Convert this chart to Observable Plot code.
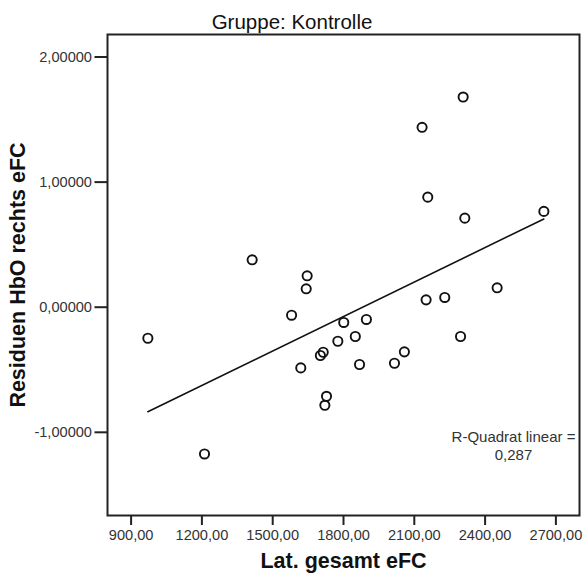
<!DOCTYPE html>
<html>
<head>
<meta charset="utf-8">
<script src="https://cdn.jsdelivr.net/npm/d3@7"></script>
<script src="https://cdn.jsdelivr.net/npm/@observablehq/plot@0.6"></script>
<style>
  body { margin: 0; background: #fff; font-family: "Liberation Sans", Arial, sans-serif; }
  #wrap { position: relative; width: 584px; height: 580px; }
  #title { position: absolute; top: 10px; left: 0; width: 584px; text-align: center; font-size: 20.5px; line-height: 24px; color: #111; }
</style>
</head>
<body>
<div id="wrap"><div id="title">Gruppe: Kontrolle</div></div>
<script>
// Data
const latGesamt = [971, 1211, 1413, 1580, 1646, 1642, 1619, 1702, 1714, 1728, 1721, 1776, 1801, 1850, 1868, 1897, 2016, 2058, 2133, 2157, 2150, 2229, 2307, 2314, 2296, 2451, 2649];
const residuen  = [-0.248, -1.173, 0.379, -0.064, 0.251, 0.147, -0.485, -0.386, -0.360, -0.712, -0.784, -0.272, -0.122, -0.234, -0.458, -0.098, -0.448, -0.357, 1.438, 0.880, 0.059, 0.078, 1.680, 0.712, -0.234, 0.155, 0.766];
const xTicks = [900, 1200, 1500, 1800, 2100, 2400, 2700];
const yTicks = [-1, 0, 1, 2];
const rSquaredLabel = "R-Quadrat linear =\n0,287";
const xTitle = "Lat. gesamt eFC";
const yTitle = "Residuen HbO rechts eFC";

const points = latGesamt.map((x, i) => ({x, y: residuen[i]}));

const de = d3.formatLocale({decimal: ",", thousands: ".", grouping: [3], currency: ["", " €"], minus: "-"});
const fmtX = de.format(".2f");
const fmtY = de.format(".5f");

const chart = Plot.plot({
  width: 584,
  height: 580,
  marginLeft: 107,
  marginRight: 5,
  marginTop: 34,
  marginBottom: 65,
  style: {fontFamily: "Liberation Sans, Arial, sans-serif", color: "#222", background: "#fff"},
  x: {domain: [800, 2800], ticks: xTicks, label: null},
  y: {domain: [-1.665, 2.18], ticks: yTicks, label: null},
  marks: [
    Plot.axisX({ticks: xTicks, tickSize: 10, tickPadding: 4, tickFormat: fmtX, fontSize: 14.6, strokeWidth: 2, label: null, fill: "#333"}),
    Plot.axisY({ticks: yTicks, tickSize: 12.5, tickPadding: 3, tickFormat: fmtY, fontSize: 14.6, strokeWidth: 2, label: null, fill: "#333"}),
    Plot.frame({stroke: "#222", strokeWidth: 2}),
    Plot.linearRegressionY(points, {x: "x", y: "y", ci: 0, stroke: "#111", strokeWidth: 1.6}),
    Plot.dot(points, {x: "x", y: "y", r: 4.6, stroke: "#111", strokeWidth: 1.9, fill: "none"}),
    Plot.text([rSquaredLabel], {text: d => d, frameAnchor: "right", dx: -66, dy: 170.5, textAnchor: "middle", lineAnchor: "middle", lineHeight: 1.2, fontSize: 15, fill: "#333"}),
    Plot.text([xTitle], {text: d => d, frameAnchor: "bottom", dy: 52, textAnchor: "middle", fontSize: 21.5, fontWeight: "bold", fill: "#111"}),
    Plot.text([yTitle], {text: d => d, frameAnchor: "left", dx: -89, rotate: -90, textAnchor: "middle", fontSize: 21.5, fontWeight: "bold", fill: "#111"})
  ]
});
document.getElementById("wrap").appendChild(chart);
</script>
</body>
</html>
